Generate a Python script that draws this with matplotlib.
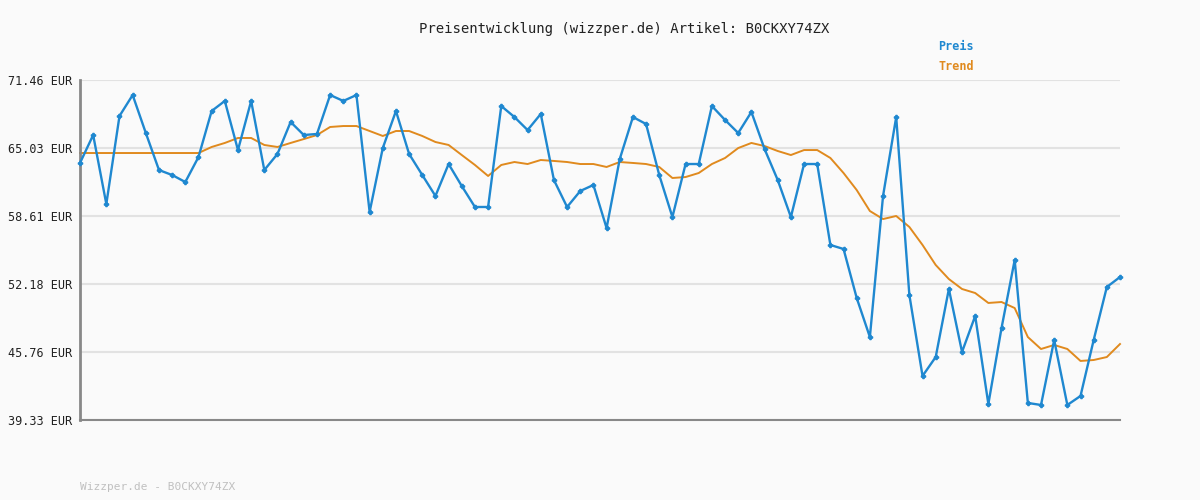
import matplotlib.pyplot as plt
import numpy as np

plt.rcParams["font.family"] = "DejaVu Sans Mono"

PREIS = [
    63.62, 66.26, 59.74, 68.06, 70.04, 66.45, 62.95, 62.48, 61.82, 64.18,
    68.53, 69.48, 64.84, 69.48, 62.95, 64.47, 67.49, 66.26, 66.36, 70.04,
    69.48, 70.04, 58.99, 65.03, 68.53, 64.47, 62.48, 60.50, 63.52, 61.44,
    59.46, 59.46, 69.00, 67.96, 66.73, 68.25, 62.01, 59.46, 60.97, 61.54,
    57.47, 63.99, 67.96, 67.30, 62.48, 58.51, 63.52, 63.52, 69.00, 67.68,
    66.45, 68.44, 64.94, 62.01, 58.51, 63.52, 63.52, 55.87, 55.49, 50.86,
    47.17, 60.50, 67.96, 51.14, 43.49, 45.28, 51.71, 45.76, 49.16, 40.84,
    48.02, 54.45, 40.94, 40.75, 46.89, 40.75, 41.60, 46.89, 51.90, 52.84,
]
TREND = [64.56] * 10 + [
    65.13, 65.51, 65.98, 65.98, 65.32, 65.13, 65.51, 65.88, 66.26, 67.02,
    67.11, 67.11, 66.64, 66.17, 66.64, 66.64, 66.17, 65.60, 65.32, 64.37,
    63.43, 62.39, 63.43, 63.71, 63.52, 63.90, 63.81, 63.71, 63.52, 63.52,
    63.24, 63.71, 63.62, 63.52, 63.24, 62.20, 62.29, 62.67, 63.52, 64.09,
    65.03, 65.51, 65.22, 64.75, 64.37, 64.84, 64.84, 64.09, 62.67, 61.06,
    59.08, 58.32, 58.61, 57.57, 55.87, 53.98, 52.65, 51.71, 51.33, 50.39,
    50.48, 49.91, 47.17, 46.04, 46.42, 46.04, 44.91, 45.00, 45.28, 46.51,
]
YTICKS = [39.33, 45.76, 52.18, 58.61, 65.03, 71.46]
ARTIKEL = "B0CKXY74ZX"

BLUE = "#1f88d0"
ORANGE = "#e08a1e"

fig = plt.figure(figsize=(12, 5), dpi=100, facecolor="#fafafa")
ax = fig.add_axes([80 / 1200, 0.16, 1040 / 1200, 0.68], facecolor="#fafafa")

x = np.arange(len(PREIS))
ax.plot(x, TREND, color=ORANGE, linewidth=1.4, zorder=2, clip_on=False)
ax.plot(x, PREIS, color=BLUE, linewidth=1.7, marker="P", markersize=3,
        zorder=3, clip_on=False)

ax.set_xlim(0, len(PREIS) - 1)
ax.set_ylim(YTICKS[0], YTICKS[-1])
ax.set_yticks(YTICKS)
ax.set_yticklabels([f"{v:.2f} EUR" for v in YTICKS], fontsize=8.5, color="#222222")
ax.set_xticks([])
ax.tick_params(axis="y", length=0, pad=6)
ax.grid(axis="y", color="#e2e2e2", linewidth=1.5)
ax.set_axisbelow(True)
for side in ["top", "right"]:
    ax.spines[side].set_visible(False)
ax.spines["left"].set_color("#888888")
ax.spines["left"].set_linewidth(2)
ax.spines["bottom"].set_color("#888888")
ax.spines["bottom"].set_linewidth(1.5)

fig.text(0.52, 0.943, f"Preisentwicklung (wizzper.de) Artikel: {ARTIKEL}",
         ha="center", va="center", fontsize=10, color="#222222")
fig.text(0.782, 0.907, "Preis", color=BLUE, fontsize=8.5, fontweight="bold", va="center")
fig.text(0.782, 0.866, "Trend", color=ORANGE, fontsize=8.5, fontweight="bold", va="center")
fig.text(80 / 1200, 0.027, f"Wizzper.de - {ARTIKEL}", color="#c0c0c0", fontsize=8,
         va="center")

fig.savefig("out.png", facecolor=fig.get_facecolor())
